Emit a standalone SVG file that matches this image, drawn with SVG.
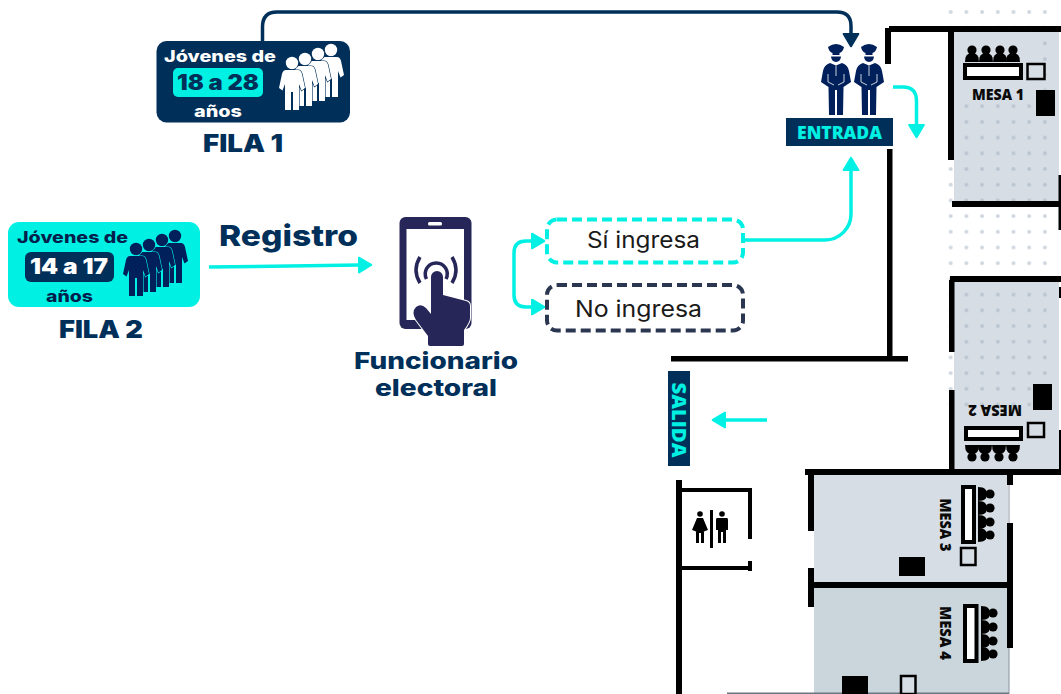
<svg xmlns="http://www.w3.org/2000/svg" xmlns:xlink="http://www.w3.org/1999/xlink" width="1061" height="694" viewBox="0 0 1061 694">
<style>
text{font-family:"Inter","Liberation Sans",sans-serif;text-anchor:middle}
.b{font-weight:800}
.h{font-weight:900}
.nv{fill:#00305a}
.cy{fill:#00f0e4}
.wh{fill:#fff}
.dk{fill:#00205b}
.k{font-family:"Open Sans","Liberation Sans",sans-serif;font-weight:800;font-size:15px;fill:#0a0a0a}
.conn{fill:none;stroke-width:3.5;stroke-linecap:butt}
.wall{fill:#000}
.desk{fill:#fff;stroke:#000;stroke-width:4}
.sq{fill:#d6dde4;stroke:#000;stroke-width:2.5}
</style>
<defs>
<pattern id="dots" patternUnits="userSpaceOnUse" x="942.85" y="4.15" width="15.7" height="15.7"><circle cx="7.85" cy="7.85" r="2" fill="#9fadbf" opacity=".5"/></pattern>
<marker id="ac" markerUnits="userSpaceOnUse" markerWidth="16" markerHeight="20" viewBox="-1 -9 15 18" refX="1" refY="0" orient="auto"><path d="M0,-6.8 L11.5,0 L0,6.8 Z" fill="#00f0e4" stroke="#00f0e4" stroke-width="2" stroke-linejoin="round"/></marker>
<marker id="an" markerUnits="userSpaceOnUse" markerWidth="16" markerHeight="20" viewBox="-1 -9 15 18" refX="1" refY="0" orient="auto"><path d="M0,-6.8 L11.5,0 L0,6.8 Z" fill="#00305a" stroke="#00305a" stroke-width="2" stroke-linejoin="round"/></marker>
<g id="person"><circle cx="0" cy="0" r="6.200"/><path d="M-6,7 H6 Q9,7 10,11 L13,25 L9.500,27.500 L7,21 V47 H1 V29 H-1 V47 H-7 V21 L-9.500,27.500 L-13,25 L-10,11 Q-9,7 -6,7Z"/></g>
<g id="crowd"><use href="#person" x="39" y="-13"/><use href="#person" x="26" y="-9"/><use href="#person" x="13" y="-4"/><use href="#person"/></g>
<g id="seat" fill="#000"><circle r="4.600"/><path d="M-7,12 L-6.500,7.500 Q-5,3 0,3 Q5,3 6.500,7.500 L7,12 Z"/></g>
<g id="seats"><use href="#seat" x="0"/><use href="#seat" x="14"/><use href="#seat" x="28"/><use href="#seat" x="41"/></g>
<g id="police" fill="#00205b"><path d="M-8,-5 Q0,-11 8,-5 Q7,0 3.500,1 V3 H-3.500 V1 Q-7,0 -8,-5Z"/><path d="M-5,4.500 H5 Q4.500,9.500 0,10 Q-4.500,9.500 -5,4.500Z"/><path d="M-6,11 L0,13.500 L6,11 Q12,13 13,19 L15,30 L7.500,35 L7,63 H1 V38 H-1 V63 H-7 L-7.500,35 L-15,30 L-13,19 Q-12,13 -6,11Z"/><path d="M0,13.500 V24 M-8,22 L-8,30 L-2,33 M8,22 L8,30 L2,33" stroke="#fff" stroke-width=".8" fill="none"/></g>
</defs>

<g id="plan">
<rect x="954" y="32" width="105" height="173" fill="#d6dde4"/>
<rect x="954" y="280" width="105" height="190" fill="#d6dde4"/>
<rect x="814" y="475" width="194" height="108" fill="#d6dde4"/>
<rect x="814" y="588" width="195" height="106" fill="#cbd5dc"/>
<rect x="943" y="4" width="110" height="408" fill="url(#dots)"/>
<rect x="955" y="34" width="78" height="67" fill="#d6dde4"/>
<g class="wall">
<rect x="889" y="26" width="172" height="6"/><rect x="885" y="28" width="6" height="36"/>
<rect x="887" y="149" width="5.500" height="208"/><rect x="671" y="356" width="237" height="5.500"/>
<rect x="948" y="30" width="6" height="130"/><rect x="952" y="201" width="109" height="6"/><rect x="1058.500" y="175" width="2.500" height="55"/>
<rect x="950" y="276" width="111" height="6"/><rect x="949" y="280" width="5.500" height="72"/><rect x="949" y="390" width="5.500" height="80"/>
<rect x="1059" y="287" width="2" height="11"/><rect x="1059" y="430" width="2" height="39"/>
<rect x="805" y="469" width="256" height="6"/><rect x="808" y="471" width="6" height="60"/><rect x="808" y="568" width="6" height="39"/>
<rect x="808" y="582" width="205" height="6"/><rect x="1007" y="475" width="6" height="10"/><rect x="1007" y="523" width="6" height="125"/>
<rect x="676" y="480" width="6" height="214"/><rect x="680" y="488" width="72" height="4"/><rect x="748" y="488" width="4" height="51"/><rect x="680" y="566" width="72" height="4"/><rect x="748" y="561" width="4" height="10"/>
</g>
<rect x="1008.500" y="485" width="1" height="38" fill="#8a94a0"/><rect x="1008.500" y="648" width="1" height="46" fill="#8a94a0"/>
<rect x="727" y="692.500" width="282" height="1.500" fill="#6d7782"/>

<g id="mesa-1">
<use href="#seats" x="972" y="50"/>
<rect class="desk" x="965" y="65" width="56" height="13"/><rect class="sq" x="1027.500" y="64" width="17" height="15"/>
<rect x="1036" y="90" width="19" height="26" fill="#000"/>
<text class="k" x="998" y="100" textLength="52" lengthAdjust="spacingAndGlyphs">MESA 1</text>
</g>
<g id="mesa-2">
<g transform="translate(1013,457) rotate(180)"><use href="#seats"/></g>
<rect class="desk" x="966" y="428" width="55" height="11"/><rect class="sq" x="1028" y="423" width="16" height="14"/>
<rect x="1033" y="384" width="19" height="26" fill="#000"/>
<text class="k" transform="translate(995,405) rotate(180)" textLength="54" lengthAdjust="spacingAndGlyphs">MESA 2</text>
</g>
<g id="mesa-3">
<g transform="translate(990,494) rotate(90)"><use href="#seats"/></g>
<rect class="desk" x="963" y="487" width="11" height="55"/><rect class="sq" x="961" y="548" width="14.500" height="17"/>
<rect x="899" y="557" width="26" height="19" fill="#000"/>
<text class="k" transform="translate(940,525) rotate(90)" textLength="53" lengthAdjust="spacingAndGlyphs">MESA 3</text>
</g>
<g id="mesa-4">
<g transform="translate(993,613) rotate(90)"><use href="#seats"/></g>
<rect class="desk" x="965" y="606" width="11.500" height="55"/><rect class="sq" x="901" y="676" width="14.500" height="18"/>
<rect x="842" y="676" width="26" height="18" fill="#000"/>
<text class="k" transform="translate(940,633) rotate(90)" textLength="54" lengthAdjust="spacingAndGlyphs">MESA 4</text>
</g>
<g id="banos" fill="#000">
<circle cx="700" cy="514" r="2.800"/><path d="M697,518 H703 L708,530 L705,531 L703.500,532 H704 V543 H701 V533 H699 V543 H696 V532 H696.500 L695,531 L692,530 Z"/>
<rect x="710" y="510" width="3" height="38"/>
<circle cx="722" cy="514" r="2.800"/><path d="M717,518 H727 Q728,518 728,520 V530 H726 V543 H723 V532 H721 V543 H718 V530 H716 V520 Q716,518 717,518Z"/>
</g>
</g>

<g id="connectors" class="conn">
<path stroke="#00305a" marker-end="url(#an)" d="M262.500,41 V27 Q262.500,12 277,12 H837 Q851,12 851,26 V35"/>
<path stroke="#00f0e4" marker-end="url(#ac)" d="M209,267 L360,265"/>
<path stroke="#00f0e4" marker-end="url(#ac)" d="M514,274 V253 Q514,241 526,241 H533"/>
<path stroke="#00f0e4" marker-end="url(#ac)" d="M514,274 V295 Q514,307 526,307 H533"/>
<path stroke="#00f0e4" marker-end="url(#ac)" d="M743,240 H825 A26,26 0 0 0 851,214 V169"/>
<path stroke="#00f0e4" marker-end="url(#ac)" d="M893,87 H903 Q916.500,87 916.500,101 V126"/>
<path stroke="#00f0e4" marker-end="url(#ac)" d="M767,420 H724"/>
</g>

<g id="fila-1">
<rect class="nv" x="156.500" y="41" width="193.500" height="81.500" rx="10"/>
<text class="b wh" x="220" y="62" font-size="16" textLength="112" lengthAdjust="spacingAndGlyphs">Jóvenes de</text>
<rect class="cy" x="173" y="68" width="90" height="29" rx="5"/>
<text class="h nv" x="218" y="90" font-size="21" textLength="82" lengthAdjust="spacingAndGlyphs">18 a 28</text>
<text class="b wh" x="218" y="117" font-size="16" textLength="48" lengthAdjust="spacingAndGlyphs">años</text>
<use href="#crowd" x="292" y="63" fill="#fff" stroke="#00305a" stroke-width="1.200" paint-order="stroke"/>
<text class="h nv" x="243" y="152" font-size="24" textLength="80" lengthAdjust="spacingAndGlyphs">FILA 1</text>
</g>

<g id="fila-2">
<rect class="cy" x="8" y="222" width="192" height="85" rx="11"/>
<text class="b" x="72.500" y="243" font-size="16" fill="#001f4d" textLength="111" lengthAdjust="spacingAndGlyphs">Jóvenes de</text>
<rect class="nv" x="25" y="252" width="89" height="30" rx="6"/>
<text class="h wh" x="69" y="274" font-size="21" textLength="78" lengthAdjust="spacingAndGlyphs">14 a 17</text>
<text class="b" x="69.500" y="302" font-size="16" fill="#001f4d" textLength="47" lengthAdjust="spacingAndGlyphs">años</text>
<use href="#crowd" x="136" y="249" fill="#00205b" stroke="#00f0e4" stroke-width="1.200" paint-order="stroke"/>
<text class="h nv" x="101" y="338" font-size="24" textLength="84" lengthAdjust="spacingAndGlyphs">FILA 2</text>
</g>

<text id="registro" class="b nv" x="288.500" y="246" font-size="29" textLength="139" lengthAdjust="spacingAndGlyphs">Registro</text>

<g id="funcionario">
<rect x="399.500" y="217" width="72" height="112" rx="6" fill="#262659"/>
<rect x="406.500" y="229" width="57.500" height="91" fill="#fff"/>
<rect x="428" y="222" width="14" height="3.500" rx="1.500" fill="#fff"/>
<g fill="none" stroke="#262659" stroke-width="3.500">
<path d="M426.500,279 A11,11 0 1 1 446,279"/>
<path d="M420,257 Q412,270 420,283"/><path d="M452,257 Q460,270 452,283"/>
</g>
<path fill="#262659" stroke="#fff" stroke-width="2" paint-order="stroke" d="M431,277 a6,6 0 0 1 12,0 V295 L466,301 Q470,302 470,306 V318 Q470,322 464,330 V344 Q464,346 462,346 H430 Q428,346 428,344 V336 L416,320 Q411,312 416,307 Q421,303 426,308 L431,314 Z"/>
<text class="b nv" x="436" y="369" font-size="23" textLength="164" lengthAdjust="spacingAndGlyphs">Funcionario</text>
<text class="b nv" x="436" y="395.500" font-size="23" textLength="122" lengthAdjust="spacingAndGlyphs">electoral</text>
</g>

<g id="si-ingresa">
<rect x="547" y="219.500" width="196" height="43" rx="10" fill="#fff" stroke="#00f0e4" stroke-width="4" stroke-dasharray="10 5"/>
<text x="643.500" y="248" font-size="22.500" fill="#1a1a1a" textLength="113" lengthAdjust="spacingAndGlyphs">Sí ingresa</text>
</g>
<g id="no-ingresa">
<rect x="547" y="285" width="196" height="45.500" rx="10" fill="#fff" stroke="#2b3650" stroke-width="4" stroke-dasharray="10 5"/>
<text x="638.500" y="317" font-size="22.500" fill="#1a1a1a" textLength="127" lengthAdjust="spacingAndGlyphs">No ingresa</text>
</g>

<g id="entrada">
<use href="#police" x="836" y="52"/>
<use href="#police" x="869" y="52"/>
<rect class="nv" x="786" y="118" width="107" height="28"/>
<text class="cy" x="839.500" y="139" font-size="18" font-weight="800" style="font-family:'Open Sans','Liberation Sans',sans-serif" textLength="85" lengthAdjust="spacingAndGlyphs">ENTRADA</text>
</g>
<g id="salida">
<rect class="nv" x="668" y="371" width="22" height="95"/>
<text class="cy" transform="translate(671.500,420) rotate(90)" font-size="20" font-weight="800" style="font-family:'Open Sans','Liberation Sans',sans-serif" textLength="75" lengthAdjust="spacingAndGlyphs">SALIDA</text>
</g>
</svg>
